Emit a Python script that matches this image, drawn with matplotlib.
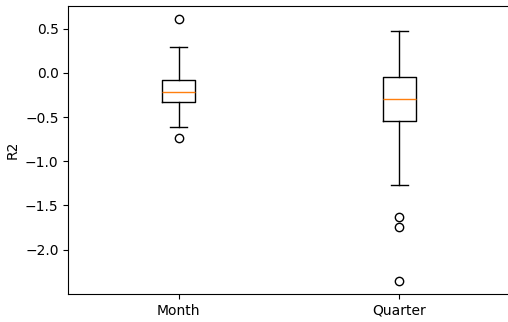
import matplotlib
matplotlib.use("Agg")
import matplotlib.pyplot as plt

# R2 scores per aggregation level
labels = ["Month", "Quarter"]
medians = [-0.213, -0.299]
q1 = [-0.329, -0.548]
q3 = [-0.077, -0.043]
whis_lo = [-0.612, -1.268]
whis_hi = [0.290, 0.474]
fliers = [[0.606, -0.736], [-1.633, -1.747, -2.351]]

stats = []
for i in range(len(labels)):
    stats.append({
        "label": labels[i],
        "med": medians[i],
        "q1": q1[i],
        "q3": q3[i],
        "whislo": whis_lo[i],
        "whishi": whis_hi[i],
        "fliers": fliers[i],
    })

fig, ax = plt.subplots(figsize=(5.08, 3.22), dpi=100)
ax.bxp(stats)
ax.set_ylabel("R2")

fig.subplots_adjust(left=0.1344, right=1.0033, top=0.9806, bottom=0.0876)
fig.savefig("out.png", dpi=100)
